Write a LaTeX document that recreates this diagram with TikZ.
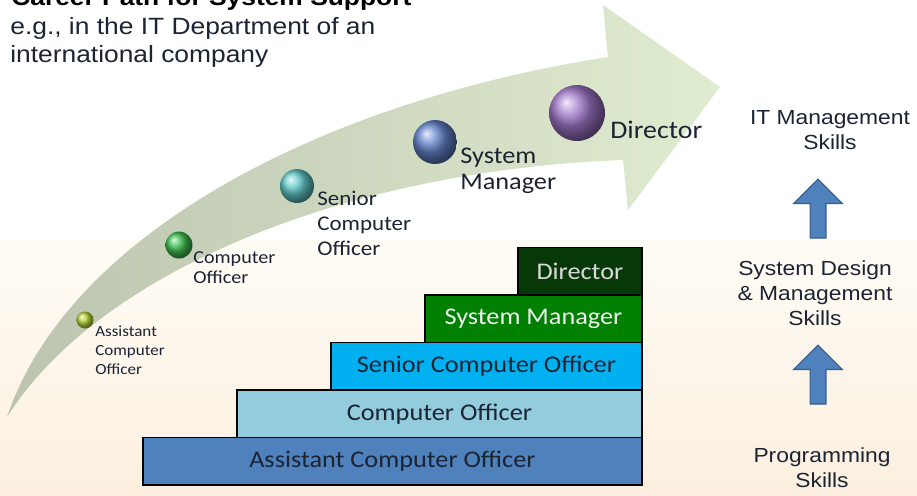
\documentclass[tikz,border=0pt]{standalone}
\usepackage{fontspec}
\newfontfamily\arialfont{Liberation Sans}[FakeStretch=1.12]
\newfontfamily\calfont{Carlito}[FakeStretch=1.1]
\usetikzlibrary{positioning,shapes.arrows}

\definecolor{acoblue}{HTML}{4F81BD}
\definecolor{colight}{HTML}{93CDDD}
\definecolor{scoblue}{HTML}{00B0F0}
\definecolor{smgreen}{HTML}{008000}
\definecolor{dirgreen}{HTML}{073807}
\definecolor{darktext}{HTML}{1C2433}
\definecolor{bgtop}{HTML}{FFFCF6}
\definecolor{bgbottom}{HTML}{FCEFDF}
\definecolor{trackleft}{HTML}{BCC4AF}
\definecolor{trackright}{HTML}{E0ECD0}
\definecolor{arrowedge}{HTML}{385D8A}
\definecolor{acodotc}{HTML}{B8D43C}
\definecolor{codotc}{HTML}{40C050}
\definecolor{scodotc}{HTML}{62CACA}
\definecolor{smdotc}{HTML}{6484CC}
\definecolor{dirdotc}{HTML}{A278CC}

\tikzset{
	stepbox/.style={draw=black, line width=0.8pt, outer sep=0pt, inner sep=0pt,
		minimum height=0.95cm, font=\calfont\fontsize{13.6}{16}\selectfont},
	dot/.style={circle, inner sep=0pt, shading=ball},
	post/.style={anchor=north west, align=left, inner sep=0pt, text=darktext},
	skill/.style={anchor=north, align=center, inner sep=0pt, text=darktext,
		font=\arialfont\fontsize{11.6}{14.4}\selectfont},
	uparrow/.style={single arrow, rotate=90, inner xsep=0pt, inner ysep=0.115cm,
		fill=acoblue, draw=arrowedge, line width=0.6pt, minimum height=1.18cm,
		minimum width=0.98cm, single arrow head extend=0.26cm}
}

\begin{document}
\begin{tikzpicture}[x=0.02cm, y=-0.02cm]

	\useasboundingbox (0,0) rectangle (917,495);
	\clip (0,0) rectangle (917,495);

	% background
	\fill[white] (0,0) rectangle (917,240);
	\shade[top color=bgtop, bottom color=bgbottom] (0,240) rectangle (917,495);

	% title
	\node[anchor=base west, inner sep=0pt, text=black,
		font=\arialfont\bfseries\fontsize{13.4}{16}\selectfont] (title) at (11,5)
		{Career Path for System Support};
	\node[anchor=north west, align=left, inner sep=0pt, text=darktext,
		font=\arialfont\fontsize{13.4}{15.9}\selectfont] (sub) at (10,17.5)
		{e.g., in the IT Department of an\\international company};

	% career track
	\shade[left color=trackleft, right color=trackright]
		(7,417) .. controls (70,230) and (330,100) .. (608,57)
		-- (603,5) -- (720,87) -- (628,210) -- (623,160)
		.. controls (350,170) and (100,270) .. (7,417) -- cycle;

	\node[dot, ball color=acodotc, minimum size=0.34cm] (acodot) at (85,320) {};
	\node[dot, ball color=codotc, minimum size=0.54cm] (codot) at (179,245) {};
	\node[dot, ball color=scodotc, minimum size=0.68cm] (scodot) at (297,186) {};
	\node[dot, ball color=smdotc, minimum size=0.88cm] (smdot) at (435,142) {};
	\node[dot, ball color=dirdotc, minimum size=1.12cm] (dirdot) at (577,113) {};

	\node[post, font=\calfont\fontsize{8.8}{10.6}\selectfont] (acolbl) at (95,326)
		{Assistant\\Computer\\Officer};
	\node[post, font=\calfont\fontsize{10.4}{11.3}\selectfont] (colbl) at (193,251)
		{Computer\\Officer};
	\node[post, font=\calfont\fontsize{11.9}{14.2}\selectfont] (scolbl) at (317,191)
		{Senior\\Computer\\Officer};
	\node[post, font=\calfont\fontsize{13.6}{14.5}\selectfont] (smlbl) at (460,148)
		{System\\Manager};
	\node[post, font=\calfont\fontsize{14.4}{16}\selectfont] (dirlbl) at (610,121)
		{Director};

	% steps
	\node[stepbox, fill=acoblue, text=darktext, minimum width=9.98cm, anchor=south west]
		(aco) at (143,485) {Assistant Computer Officer};
	\node[stepbox, fill=colight, text=darktext, minimum width=8.1cm,
		above left=0pt and 0pt of aco.north east] (co) {Computer Officer};
	\node[stepbox, fill=scoblue, text=darktext, minimum width=6.22cm,
		above left=0pt and 0pt of co.north east] (sco) {Senior Computer Officer};
	\node[stepbox, fill=smgreen, text=white!95!black, minimum width=4.34cm,
		above left=0pt and 0pt of sco.north east] (sm) {System Manager};
	\node[stepbox, fill=dirgreen, text=white!85!black, minimum width=2.48cm,
		above left=0pt and 0pt of sm.north east] (dir) {Director};

	% skills
	\node[skill] (itm) at (830,110) {IT Management\\Skills};
	\node[skill] (sdm) at (815,260) {System Design\\\& Management\\Skills};
	\node[skill] (prog) at (822,447) {Programming\\Skills};

	\node[uparrow] (up1) at (818,212.5) {};
	\node[uparrow] (up2) at (818,378.5) {};

\end{tikzpicture}
\end{document}
